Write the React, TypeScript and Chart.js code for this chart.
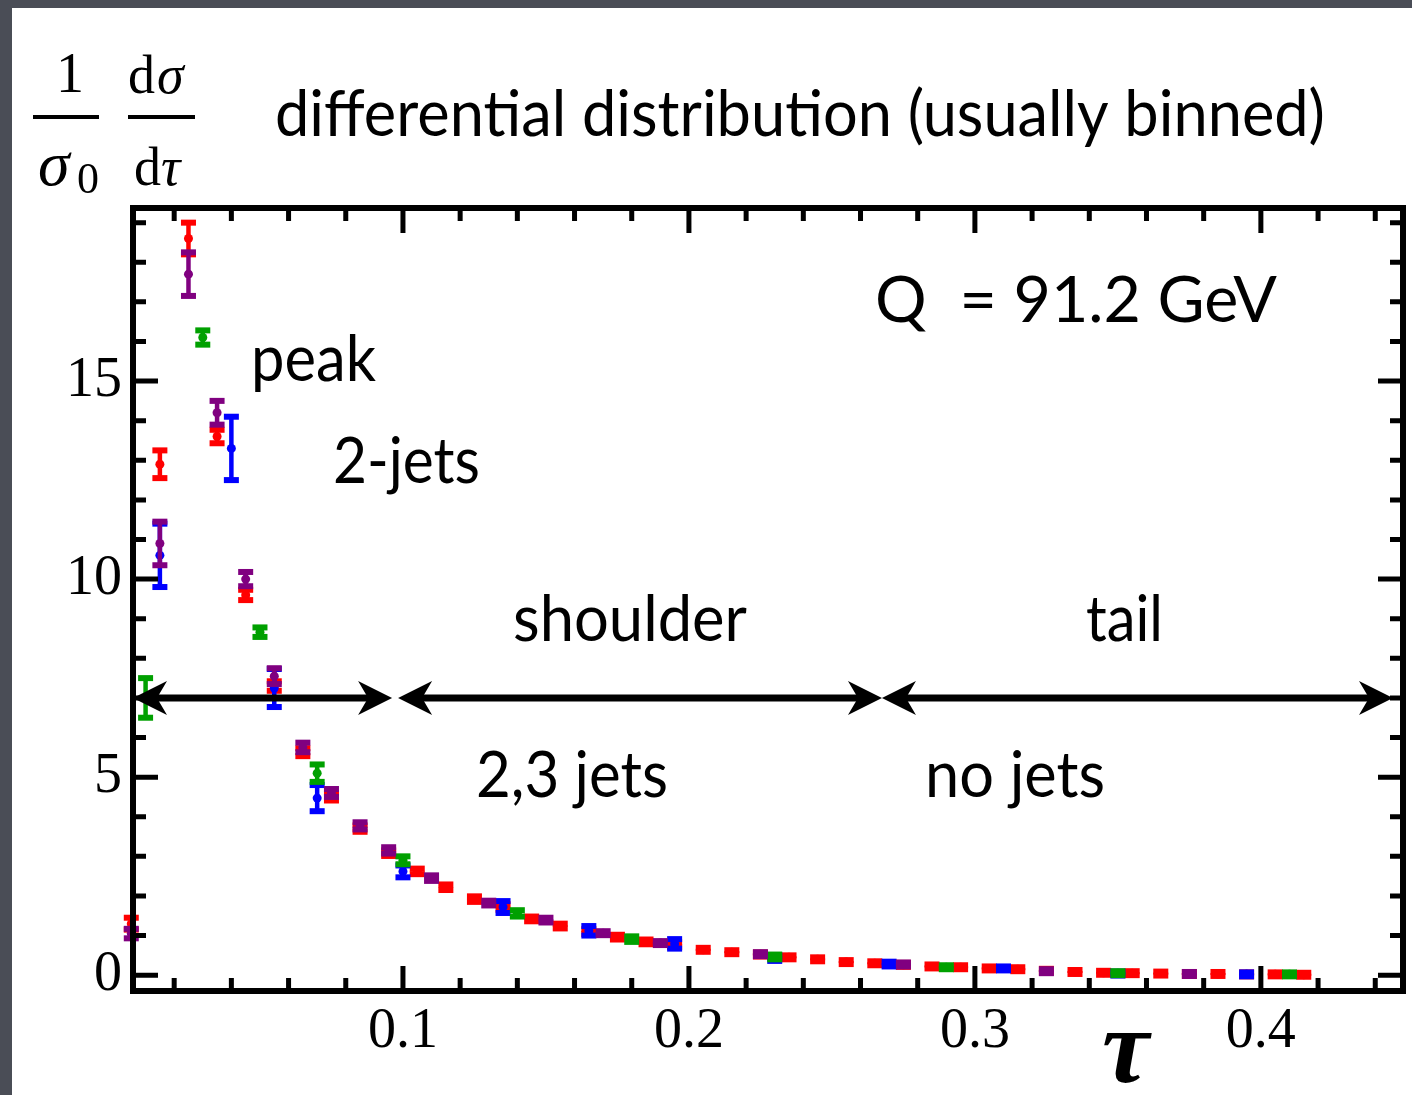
import { useEffect, useRef } from 'react';
import { Chart, registerables } from 'chart.js';

Chart.register(...registerables);

// ---- data ----
const redTau = [0.005, 0.015, 0.025, 0.035, 0.045, 0.055, 0.065, 0.075, 0.085, 0.095, 0.105, 0.115, 0.125, 0.135, 0.145, 0.155, 0.165, 0.175, 0.185, 0.195, 0.205, 0.215, 0.225, 0.235, 0.245, 0.255, 0.265, 0.275, 0.285, 0.295, 0.305, 0.315, 0.325, 0.335, 0.345, 0.355, 0.365, 0.375, 0.385, 0.395, 0.405, 0.415];
const redVal = [1.3, 12.9, 18.6, 13.6, 9.6, 7.3, 5.63, 4.5, 3.7, 3.08, 2.62, 2.22, 1.92, 1.72, 1.42, 1.24, 1.1, 0.96, 0.84, 0.77, 0.64, 0.58, 0.52, 0.45, 0.4, 0.33, 0.3, 0.26, 0.22, 0.2, 0.17, 0.15, 0.11, 0.08, 0.06, 0.05, 0.04, 0.03, 0.03, 0.02, 0.02, 0.01];
const redErr = [0.15, 0.35, 0.4, 0.17, 0.13, 0.12, 0.1, 0.09, 0.08, 0.07, 0.07, 0.07, 0.07, 0.07, 0.06, 0.06, 0.06, 0.06, 0.06, 0.06, 0.05, 0.05, 0.05, 0.05, 0.05, 0.05, 0.05, 0.05, 0.05, 0.05, 0.05, 0.05, 0.05, 0.05, 0.05, 0.05, 0.05, 0.05, 0.05, 0.05, 0.05, 0.05];

const purpleTau = [0.005, 0.015, 0.025, 0.035, 0.045, 0.055, 0.065, 0.075, 0.085, 0.095, 0.11, 0.13, 0.15, 0.17, 0.19, 0.225, 0.275, 0.325, 0.375];
const purpleVal = [1.05, 10.9, 17.7, 14.2, 10.0, 7.55, 5.75, 4.6, 3.77, 3.15, 2.45, 1.82, 1.39, 1.06, 0.81, 0.53, 0.27, 0.1, 0.03];
const purpleErr = [0.12, 0.55, 0.55, 0.3, 0.18, 0.2, 0.12, 0.1, 0.09, 0.08, 0.07, 0.06, 0.06, 0.05, 0.05, 0.05, 0.05, 0.05, 0.05];

const greenTau = [0.01, 0.03, 0.05, 0.07, 0.1, 0.14, 0.18, 0.23, 0.29, 0.35, 0.41];
const greenVal = [7.0, 16.1, 8.66, 5.1, 2.9, 1.56, 0.91, 0.46, 0.2, 0.05, 0.02];
const greenErr = [0.5, 0.18, 0.12, 0.22, 0.1, 0.08, 0.07, 0.06, 0.05, 0.05, 0.05];

const blueTau = [0.015, 0.04, 0.055, 0.07, 0.1, 0.135, 0.165, 0.195, 0.23, 0.27, 0.31, 0.35, 0.395];
const blueVal = [10.6, 13.3, 7.25, 4.47, 2.62, 1.72, 1.12, 0.79, 0.43, 0.28, 0.17, 0.04, 0.02];
const blueErr = [0.8, 0.8, 0.48, 0.33, 0.15, 0.15, 0.12, 0.12, 0.07, 0.06, 0.05, 0.05, 0.05];

const xMajorTicks = [0.1, 0.2, 0.3, 0.4];
const xMinorTicks = [0.02, 0.04, 0.06, 0.08, 0.12, 0.14, 0.16, 0.18, 0.22, 0.24, 0.26, 0.28, 0.32, 0.34, 0.36, 0.38, 0.42, 0.44];
const yMajorTicks = [0, 5, 10, 15];
const yMinorTicks = [1, 2, 3, 4, 6, 7, 8, 9, 11, 12, 13, 14, 16, 17, 18, 19];

const X_MIN = 0.0056;
const X_MAX = 0.4497;
const Y_MIN = -0.4;
const Y_MAX = 19.37;

const arrowLevel = 7.0;
const arrowStarts = [X_MIN, 0.0983, 0.2675];
const arrowEnds = [0.0962, 0.2675, 0.4462];

const titleText = 'differential distribution (usually binned)';
const energyText = 'Q  = 91.2 GeV';
const regionLabels = ['peak', '2-jets', 'shoulder', 'tail', '2,3 jets', 'no jets'];

const SANS = "Lato, 'Open Sans', sans-serif";
const SERIF = "'Liberation Serif', 'DejaVu Serif', serif";

function drawFitted(ctx: CanvasRenderingContext2D, text: string, left: number, baseline: number, width: number, font: string) {
  ctx.save();
  ctx.font = font;
  const w = ctx.measureText(text).width;
  ctx.translate(left, baseline);
  ctx.scale(width / w, 1);
  ctx.textAlign = 'left';
  ctx.textBaseline = 'alphabetic';
  ctx.fillStyle = '#000';
  ctx.fillText(text, 0, 0);
  ctx.restore();
}

function drawArrowHead(ctx: CanvasRenderingContext2D, tipX: number, y: number, dir: number) {
  const L = 34;
  const W = 17;
  const notch = 24;
  ctx.beginPath();
  ctx.moveTo(tipX, y);
  ctx.lineTo(tipX - dir * L, y - W);
  ctx.lineTo(tipX - dir * notch, y);
  ctx.lineTo(tipX - dir * L, y + W);
  ctx.closePath();
  ctx.fill();
}

const decorPlugin = {
  id: 'decor',
  beforeDraw(chart: any) {
    const ctx = chart.ctx as CanvasRenderingContext2D;
    ctx.save();
    ctx.fillStyle = '#4a4d56';
    ctx.fillRect(0, 0, chart.width, chart.height);
    ctx.fillStyle = '#ffffff';
    ctx.fillRect(12, 8, chart.width - 12, chart.height - 8);
    ctx.restore();
  },
  afterDatasetDraw(chart: any, args: any) {
    const ds = chart.data.datasets[args.index];
    const errs: number[] = ds.errors;
    if (!errs) return;
    const ctx = chart.ctx as CanvasRenderingContext2D;
    const xs = chart.scales.x;
    const ys = chart.scales.y;
    ctx.save();
    ctx.fillStyle = ds.backgroundColor;
    ctx.strokeStyle = ds.backgroundColor;
    ds.data.forEach((p: any, i: number) => {
      const px = xs.getPixelForValue(p.x);
      const top = ys.getPixelForValue(p.y + errs[i]);
      const bot = ys.getPixelForValue(p.y - errs[i]);
      ctx.lineWidth = 4.5;
      ctx.beginPath();
      ctx.moveTo(px, top);
      ctx.lineTo(px, bot);
      ctx.stroke();
      ctx.fillRect(px - 7.5, top - 3, 15, 6);
      ctx.fillRect(px - 7.5, bot - 3, 15, 6);
    });
    ctx.restore();
  },
  afterDraw(chart: any) {
    const ctx = chart.ctx as CanvasRenderingContext2D;
    const { left, right, top, bottom } = chart.chartArea;
    const xs = chart.scales.x;
    const ys = chart.scales.y;
    ctx.save();
    // arrows
    ctx.fillStyle = '#000';
    ctx.strokeStyle = '#000';
    const ay = ys.getPixelForValue(arrowLevel);
    arrowStarts.forEach((s, i) => {
      const x0 = xs.getPixelForValue(s);
      const x1 = xs.getPixelForValue(arrowEnds[i]);
      ctx.lineWidth = 7;
      ctx.beginPath();
      ctx.moveTo(x0 + 20, ay);
      ctx.lineTo(x1 - 20, ay);
      ctx.stroke();
      drawArrowHead(ctx, x0, ay, -1);
      drawArrowHead(ctx, x1, ay, 1);
    });
    // frame
    ctx.lineWidth = 6;
    ctx.strokeRect(left, top, right - left, bottom - top);
    // ticks
    ctx.lineWidth = 5;
    ctx.beginPath();
    const addX = (v: number, len: number) => {
      const px = xs.getPixelForValue(v);
      ctx.moveTo(px, bottom);
      ctx.lineTo(px, bottom - len);
      ctx.moveTo(px, top);
      ctx.lineTo(px, top + len);
    };
    const addY = (v: number, len: number) => {
      const py = ys.getPixelForValue(v);
      ctx.moveTo(left, py);
      ctx.lineTo(left + len, py);
      ctx.moveTo(right, py);
      ctx.lineTo(right - len, py);
    };
    xMajorTicks.forEach((v) => addX(v, 25));
    xMinorTicks.forEach((v) => addX(v, 13));
    yMajorTicks.forEach((v) => addY(v, 25));
    yMinorTicks.forEach((v) => addY(v, 13));
    ctx.stroke();

    // texts
    const f = `64px ${SANS}`;
    drawFitted(ctx, titleText, 275, 136, 1050, f);
    drawFitted(ctx, energyText, 875, 322, 402, f);
    drawFitted(ctx, regionLabels[0], 251, 381, 125, f);
    drawFitted(ctx, regionLabels[1], 333, 483, 147, f);
    drawFitted(ctx, regionLabels[2], 513, 641, 234, f);
    drawFitted(ctx, regionLabels[3], 1086, 641, 77, f);
    drawFitted(ctx, regionLabels[4], 476, 797, 192, f);
    drawFitted(ctx, regionLabels[5], 925, 797, 180, f);

    // y-axis label fraction
    ctx.fillStyle = '#000';
    ctx.textBaseline = 'alphabetic';
    ctx.textAlign = 'center';
    ctx.font = `56px ${SERIF}`;
    ctx.fillText('1', 70, 92);
    ctx.fillRect(33, 115, 66, 4);
    ctx.fillRect(128, 115, 67, 4);
    ctx.textAlign = 'left';
    ctx.font = `italic 64px ${SERIF}`;
    ctx.fillText('\u03c3', 38, 185);
    ctx.font = `44px ${SERIF}`;
    ctx.fillText('0', 77, 193);
    ctx.font = `54px ${SERIF}`;
    ctx.fillText('d', 128, 93);
    ctx.fillText('d', 134, 185);
    ctx.font = `italic 54px ${SERIF}`;
    ctx.fillText('\u03c3', 157, 93);
    ctx.fillText('\u03c4', 161, 185);

    // x-axis label tau
    ctx.font = `italic bold 106px ${SERIF}`;
    ctx.fillText('\u03c4', 1102, 1082);
    ctx.restore();
  },
};

function mk(label: string, xs: number[], ys: number[], errs: number[], color: string) {
  return {
    label,
    data: xs.map((x, i) => ({ x, y: ys[i] })),
    errors: errs,
    backgroundColor: color,
    borderColor: color,
    pointRadius: 4.5,
    pointBorderWidth: 0,
    pointHoverRadius: 4.5,
    showLine: false,
    clip: false,
  };
}

export default function App() {
  const ref = useRef<HTMLCanvasElement | null>(null);
  useEffect(() => {
    if (!ref.current) return;
    const chart = new Chart(ref.current, {
      type: 'scatter',
      data: {
        datasets: [
          mk('purple', purpleTau, purpleVal, purpleErr, '#800080'),
          mk('green', greenTau, greenVal, greenErr, '#00a000'),
          mk('blue', blueTau, blueVal, blueErr, '#0000ff'),
          mk('red', redTau, redVal, redErr, '#ff0000'),
        ] as any,
      },
      options: {
        animation: false,
        responsive: false,
        devicePixelRatio: 1,
        events: [],
        layout: { padding: { left: 0, top: 208, right: 9, bottom: 0 } },
        plugins: { legend: { display: false }, tooltip: { enabled: false } },
        scales: {
          x: {
            type: 'linear',
            min: X_MIN,
            max: X_MAX,
            grid: { display: false, drawTicks: false },
            border: { display: false },
            ticks: {
              color: '#000',
              font: { family: SERIF, size: 56 },
              padding: 8,
              autoSkip: false,
              maxRotation: 0,
              callback: (v: any) => Number(v).toFixed(1),
            },
            afterBuildTicks: (s: any) => {
              s.ticks = xMajorTicks.map((v) => ({ value: v }));
            },
            afterFit: (s: any) => {
              s.height = 104;
            },
          },
          y: {
            type: 'linear',
            min: Y_MIN,
            max: Y_MAX,
            grid: { display: false, drawTicks: false },
            border: { display: false },
            ticks: {
              color: '#000',
              font: { family: SERIF, size: 56 },
              padding: 11,
              autoSkip: false,
              callback: (v: any) => String(v),
            },
            afterBuildTicks: (s: any) => {
              s.ticks = yMajorTicks.map((v) => ({ value: v }));
            },
            afterFit: (s: any) => {
              s.width = 133;
            },
          },
        },
      } as any,
      plugins: [decorPlugin],
    });
    return () => chart.destroy();
  }, []);
  return (
    <div style={{ position: 'absolute', left: 0, top: 0, width: 1412, height: 1095, overflow: 'hidden' }}>
      <canvas ref={ref} width={1412} height={1095} style={{ display: 'block', width: 1412, height: 1095 }} />
    </div>
  );
}
